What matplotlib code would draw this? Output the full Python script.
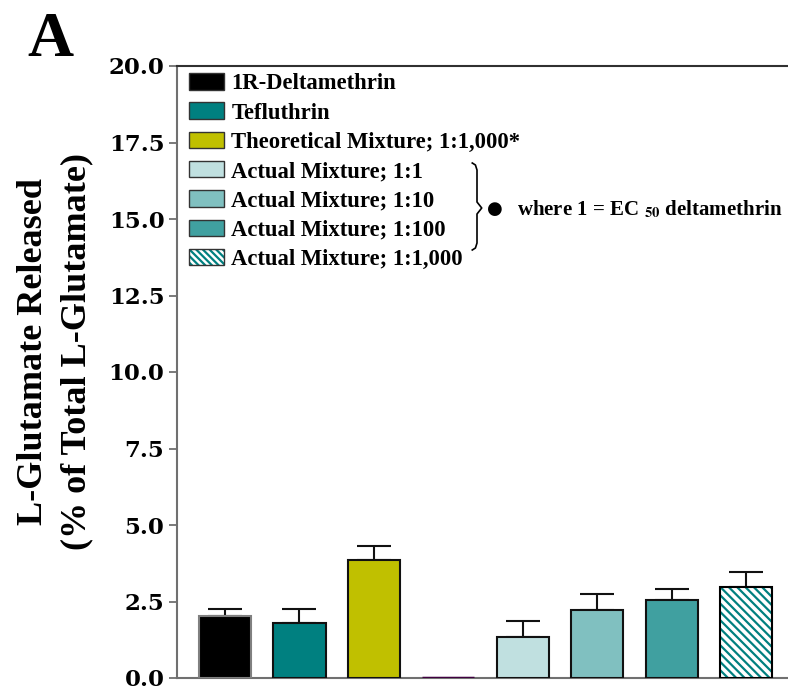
import numpy as np
import matplotlib.pyplot as plt
from matplotlib.patches import Patch
from matplotlib.lines import Line2D
from matplotlib.legend_handler import HandlerTuple

# data
labels = ['1R-Deltamethrin', 'Tefluthrin', 'Theoretical Mixture; 1:1,000*', '',
          'Actual Mixture; 1:1', 'Actual Mixture; 1:10', 'Actual Mixture; 1:100',
          'Actual Mixture; 1:1,000']
means = [2.03, 1.81, 3.84, 0.0, 1.33, 2.21, 2.56, 2.96]
sems = [0.21, 0.44, 0.48, 0.0, 0.52, 0.53, 0.34, 0.50]
colors = ['#000000', '#008080', '#c0c000', '#400040',
          '#c0e0e0', '#80c0c0', '#40a0a0', '#ffffff']
yticks = [0.0, 2.5, 5.0, 7.5, 10.0, 12.5, 15.0, 17.5, 20.0]

serif = ['Liberation Serif', 'DejaVu Serif']
plt.rcParams['hatch.linewidth'] = 1.6
plt.rcParams['mathtext.fontset'] = 'stix'

fig = plt.figure(figsize=(7.88, 6.91), dpi=100)
ax = fig.add_axes([177/788, 1-678/691, 1-177/788, (678-66)/691])

x = np.arange(len(means))
w = 0.70
handles = []
for i in range(len(means)):
    if i == 3:
        ax.bar(x[i], means[i], w, color=colors[i], edgecolor=colors[i], lw=2.5, zorder=3)
        continue
    if i == 7:
        ax.bar(x[i], means[i], w, color='white', edgecolor='#008080',
               hatch='\\\\\\\\', lw=0, zorder=3)
        ax.bar(x[i], means[i], w, fill=False, edgecolor='black', lw=1.5, zorder=4)
        handles.append((Patch(facecolor='white', edgecolor='#008080', hatch='\\\\\\\\\\', lw=0),
                        Patch(fill=False, edgecolor='#333333', lw=1)))
    else:
        ec = '#808080' if i == 0 else '#111111'
        ax.bar(x[i], means[i], w, color=colors[i], edgecolor=ec, lw=1.5, zorder=3)
        handles.append(Patch(facecolor=colors[i], edgecolor='#333333', lw=1))
    ax.errorbar(x[i], means[i], yerr=[[0], [sems[i]]], fmt='none', ecolor='#111111',
                elinewidth=1.5, capsize=12, capthick=1.5, zorder=2)

ax.set_xlim(-0.645, 7.56)
ax.set_ylim(0, 20)
ax.set_yticks(yticks)
ax.set_yticklabels(['%.1f' % t for t in yticks], fontfamily='DejaVu Serif',
                   fontweight='bold', fontsize=16.5)
ax.set_xticks([])
for s in ['left', 'bottom', 'top']:
    ax.spines[s].set_color('#707070')
    ax.spines[s].set_linewidth(1.5)
ax.spines['top'].set_color('#303030')
ax.spines['right'].set_visible(False)
ax.tick_params(axis='y', direction='out', length=6, width=1.3, color='#707070', pad=3)

ax.set_ylabel('L-Glutamate Released\n(% of Total L-Glutamate)', fontfamily=serif,
              fontweight='bold', fontsize=26, linespacing=1.4)
ax.yaxis.set_label_coords((93-177)/611, (678-352)/612)

leg_labels = [l for l in labels if l]
ax.legend(handles, leg_labels, handler_map={tuple: HandlerTuple(ndivide=1, pad=0)},
          loc='upper left', bbox_to_anchor=(0.005, 1.003), frameon=False,
          prop={'family': serif, 'weight': 'bold', 'size': 16.3},
          handlelength=1.55, handleheight=0.74, handletextpad=0.32, labelspacing=0.36,
          borderaxespad=0.0)

# brace and note
bx = 477/788
def fy(p):
    return 1 - p/691
brace = [(bx-0.006, fy(163)), (bx-0.002, fy(165)), (bx, fy(170)), (bx, fy(202)),
         (bx+0.006, fy(208)), (bx, fy(214)), (bx, fy(243)), (bx-0.002, fy(248)),
         (bx-0.006, fy(250))]
fig.add_artist(Line2D([p[0] for p in brace], [p[1] for p in brace], color='black', lw=1.2))
fig.text(495/788, fy(209), '\u25cf', fontsize=13, ha='center', va='center', family='DejaVu Sans')
fig.text(517/788, fy(209), 'where 1 = EC $_{\\mathbf{50}}$ deltamethrin', fontsize=15,
         family=serif, fontweight='bold', ha='left', va='center')

fig.text(50/788, fy(56), 'A', fontsize=46, family=serif, fontweight='bold',
         ha='center', va='baseline')

fig.savefig('out.png', dpi=100)
